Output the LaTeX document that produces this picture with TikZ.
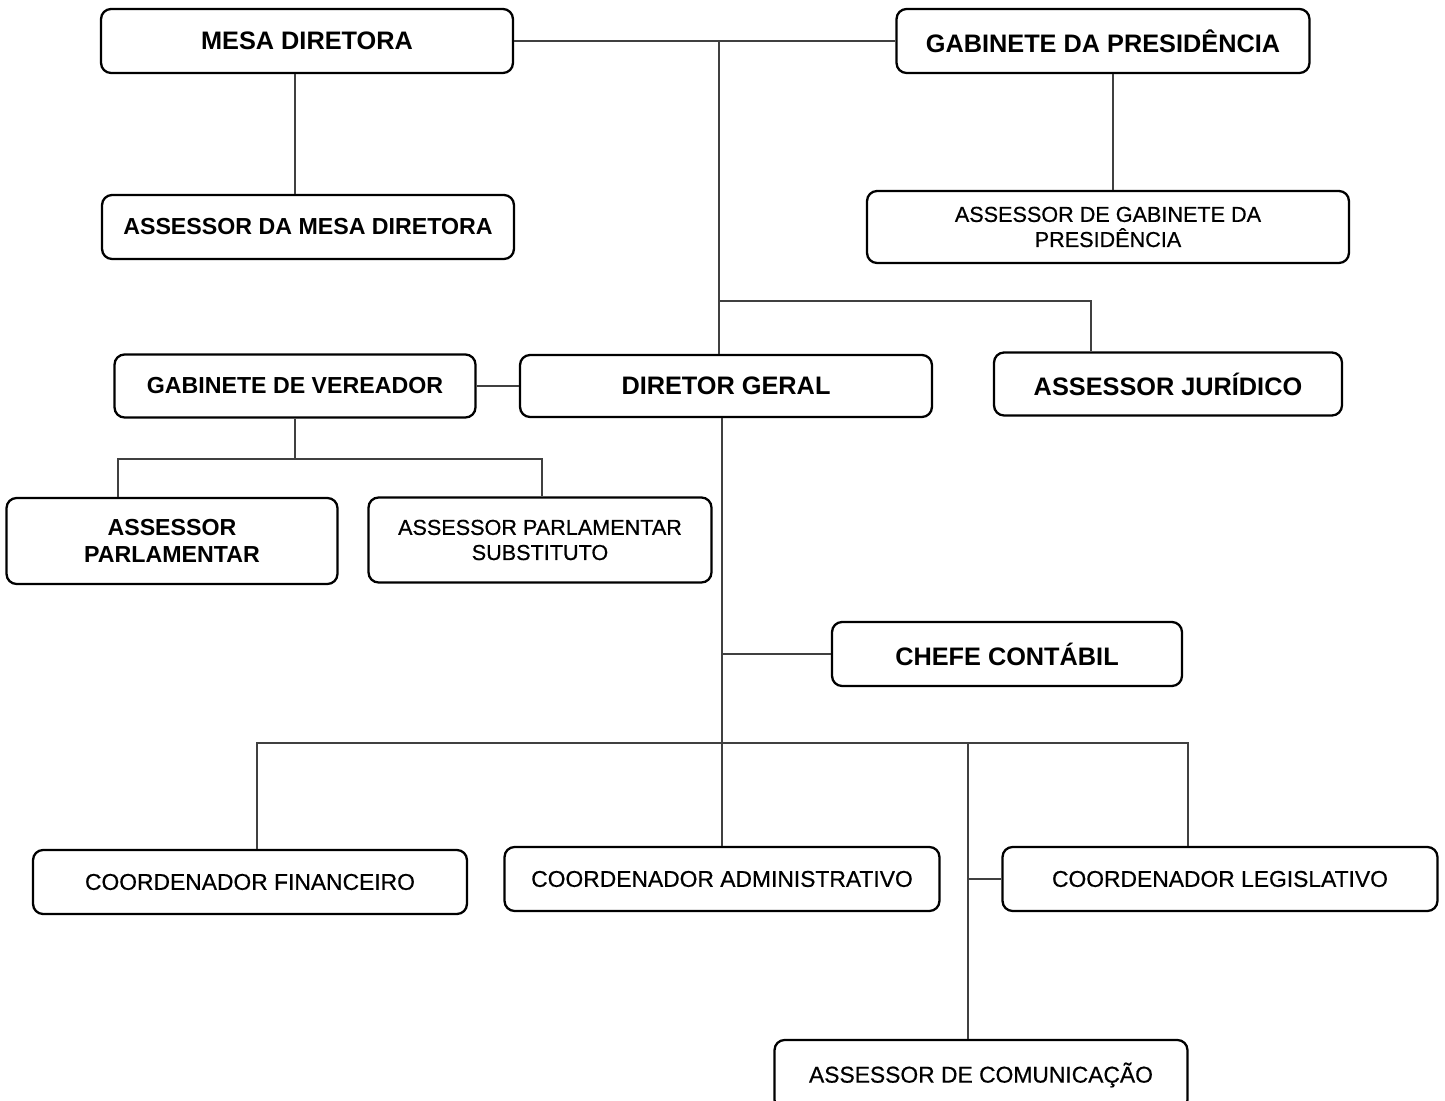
\documentclass[tikz,border=0pt]{standalone}
\usepackage{fontspec}
\setmainfont{Liberation Sans}
\newfontfamily\medio{Liberation Sans}[FakeBold=0.6]
\tikzset{
	caixa/.style={draw, line width=1.3pt, rounded corners=0.2cm, align=center, inner sep=0pt},
	grande/.style={caixa, font=\bfseries\fontsize{14.4}{17}\selectfont},
	media/.style={caixa, font=\bfseries\fontsize{13.2}{15.5}\selectfont},
	normal/.style={caixa, font=\medio\fontsize{13}{15}\selectfont},
	miuda/.style={caixa, font=\medio\fontsize{12.3}{14.3}\selectfont},
	liga/.style={line width=0.6pt, draw=black!75}
}
\begin{document}
\begin{tikzpicture}[x=0.02cm, y=-0.02cm]
				\useasboundingbox (0,0) rectangle (1445,1101);
				% topo
				\node[grande, minimum width=8.24cm, minimum height=1.28cm] (mesa) at(307,41){MESA DIRETORA};
				\node[grande, minimum width=8.26cm, minimum height=1.28cm] (gabpres) at(1103,41){GABINETE DA PRESIDÊNCIA};
				\node[media, minimum width=8.24cm, minimum height=1.28cm] (assmesa) at(308,227){ASSESSOR DA MESA DIRETORA};
				\node[miuda, minimum width=9.64cm, minimum height=1.44cm] (assgab) at(1108,227){ASSESSOR DE GABINETE DA\\PRESIDÊNCIA};
				% meio
				\node[media, minimum width=7.22cm, minimum height=1.26cm] (gabver) at(295,386){GABINETE DE VEREADOR};
				\node[grande, minimum width=8.24cm, minimum height=1.24cm] (dirger) at(726,386){DIRETOR GERAL};
				\node[grande, minimum width=6.96cm, minimum height=1.26cm] (assjur) at(1168,384){ASSESSOR JURÍDICO};
				\node[media, minimum width=6.62cm, minimum height=1.72cm] (asspar) at(172,541){ASSESSOR\\PARLAMENTAR};
				\node[miuda, minimum width=6.86cm, minimum height=1.7cm] (asssub) at(540,540){ASSESSOR PARLAMENTAR\\SUBSTITUTO};
				\node[grande, minimum width=7.0cm, minimum height=1.28cm] (chefe) at(1007,654){CHEFE CONTÁBIL};
				% base
				\node[normal, minimum width=8.68cm, minimum height=1.28cm] (coofin) at(250,882){COORDENADOR FINANCEIRO};
				\node[normal, minimum width=8.7cm, minimum height=1.28cm] (cooadm) at(722,879){COORDENADOR ADMINISTRATIVO};
				\node[normal, minimum width=8.7cm, minimum height=1.28cm] (coolegis) at(1220,879){COORDENADOR LEGISLATIVO};
				\node[normal, minimum width=8.26cm, minimum height=1.4cm] (asscom) at(981,1075){ASSESSOR DE COMUNICAÇÃO};
				% pontos das ligacoes
				\coordinate (t) at(719,41);
				\coordinate (m) at(295,0);
				\coordinate (g) at(1113,0);
				\coordinate (j) at(1091,301);
				\coordinate (pl) at(118,459);
				\coordinate (pr) at(542,459);
				\coordinate (d) at(722,743);
				\coordinate (bl) at(257,743);
				\coordinate (bc) at(968,743);
				\coordinate (br) at(1188,743);
				% ligacoes
				\draw[liga] (mesa) -- (gabpres);
				\draw[liga] (t) -- (t |- dirger.north);
				\draw[liga] (t |- j) -- (j) -- (j |- assjur.north);
				\draw[liga] (m |- mesa.south) -- (m |- assmesa.north);
				\draw[liga] (g |- gabpres.south) -- (g |- assgab.north);
				\draw[liga] (gabver) -- (dirger);
				\draw[liga] (gabver.south) -- (gabver.south |- pl);
				\draw[liga] (pl |- asspar.north) -- (pl) -- (pr) -- (pr |- asssub.north);
				\draw[liga] (d |- dirger.south) -- (d |- cooadm.north);
				\draw[liga] (d |- chefe.west) -- (chefe.west);
				\draw[liga] (bl |- coofin.north) -- (bl) -- (br) -- (br |- coolegis.north);
				\draw[liga] (bc) -- (bc |- asscom.north);
				\draw[liga] (bc |- coolegis.west) -- (coolegis.west);
			\end{tikzpicture}
\end{document}
